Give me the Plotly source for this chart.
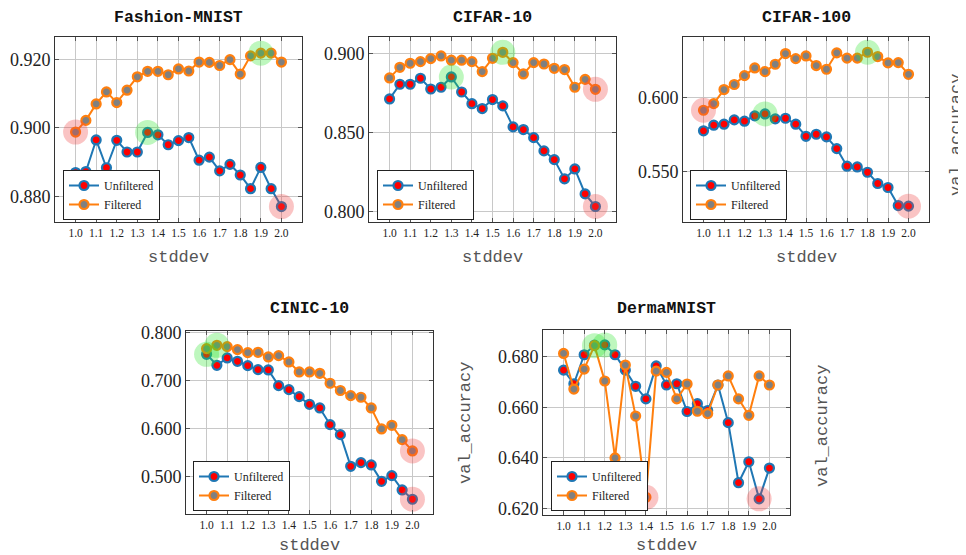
import plotly.graph_objects as go
import numpy as np

W, H = 966, 555
OFF = 8  # page body margin offset compensation

stddev = [1.0, 1.05, 1.1, 1.15, 1.2, 1.25, 1.3, 1.35, 1.4, 1.45, 1.5,
          1.55, 1.6, 1.65, 1.7, 1.75, 1.8, 1.85, 1.9, 1.95, 2.0]
x_tick_vals = [1.0, 1.1, 1.2, 1.3, 1.4, 1.5, 1.6, 1.7, 1.8, 1.9, 2.0]
x_tick_text = ["1.0", "1.1", "1.2", "1.3", "1.4", "1.5", "1.6", "1.7", "1.8", "1.9", "2.0"]

titles = ["Fashion-MNIST", "CIFAR-10", "CIFAR-100", "CINIC-10", "DermaMNIST"]

fashion_unfiltered = [0.8870, 0.8873, 0.8965, 0.8884, 0.8964, 0.8930, 0.8930, 0.8987, 0.8980, 0.8951, 0.8963,
                      0.8972, 0.8906, 0.8915, 0.8875, 0.8894, 0.8863, 0.8823, 0.8885, 0.8823, 0.8771]
fashion_filtered = [0.8988, 0.9022, 0.9070, 0.9105, 0.9074, 0.9110, 0.9149, 0.9165, 0.9165, 0.9155, 0.9172,
                    0.9166, 0.9192, 0.9191, 0.9182, 0.9199, 0.9157, 0.9210, 0.9218, 0.9218, 0.9192]

cifar10_unfiltered = [0.8711, 0.8804, 0.8804, 0.8842, 0.8774, 0.8785, 0.8850, 0.8755, 0.8681, 0.8650, 0.8707,
                      0.8667, 0.8534, 0.8517, 0.8466, 0.8382, 0.8327, 0.8205, 0.8268, 0.8110, 0.8030]
cifar10_filtered = [0.8844, 0.8911, 0.8937, 0.8947, 0.8966, 0.8983, 0.8956, 0.8956, 0.8947, 0.8884, 0.8968,
                    0.9006, 0.8941, 0.8869, 0.8941, 0.8932, 0.8905, 0.8897, 0.8785, 0.8835, 0.8772]

cifar100_unfiltered = [0.5773, 0.5811, 0.5818, 0.5847, 0.5838, 0.5874, 0.5887, 0.5854, 0.5858, 0.5818, 0.5736,
                       0.5750, 0.5732, 0.5653, 0.5534, 0.5529, 0.5493, 0.5417, 0.5390, 0.5268, 0.5264]
cifar100_filtered = [0.5912, 0.5957, 0.6052, 0.6086, 0.6146, 0.6198, 0.6173, 0.6223, 0.6295, 0.6261, 0.6279,
                     0.6214, 0.6189, 0.6300, 0.6264, 0.6264, 0.6304, 0.6275, 0.6232, 0.6234, 0.6155]

cinic_unfiltered = [0.7544, 0.7316, 0.7468, 0.7399, 0.7309, 0.7226, 0.7219, 0.6894, 0.6811, 0.6666, 0.6507,
                    0.6431, 0.6085, 0.5878, 0.5221, 0.5297, 0.5249, 0.4910, 0.5028, 0.4731, 0.4538]
cinic_filtered = [0.7661, 0.7730, 0.7703, 0.7641, 0.7578, 0.7585, 0.7489, 0.7516, 0.7385, 0.7178, 0.7178,
                  0.7150, 0.6943, 0.6793, 0.6687, 0.6653, 0.6431, 0.5996, 0.6071, 0.5774, 0.5540]

derma_unfiltered = [0.6747, 0.6693, 0.6808, 0.6846, 0.6847, 0.6808, 0.6747, 0.6683, 0.6633, 0.6764, 0.6688,
                    0.6693, 0.6583, 0.6614, 0.6587, 0.6688, 0.6539, 0.6301, 0.6384, 0.6237, 0.6359]
derma_filtered = [0.6813, 0.6672, 0.6751, 0.6844, 0.6704, 0.6399, 0.6767, 0.6565, 0.6243, 0.6743, 0.6738,
                  0.6633, 0.6692, 0.6584, 0.6575, 0.6688, 0.6724, 0.6633, 0.6568, 0.6724, 0.6688]

y_tick_vals = [
    [0.88, 0.90, 0.92],
    [0.80, 0.85, 0.90],
    [0.55, 0.60],
    [0.5, 0.6, 0.7, 0.8],
    [0.62, 0.64, 0.66, 0.68],
]

unfiltered_all = [fashion_unfiltered, cifar10_unfiltered, cifar100_unfiltered, cinic_unfiltered, derma_unfiltered]
filtered_all = [fashion_filtered, cifar10_filtered, cifar100_filtered, cinic_filtered, derma_filtered]

# layout geometry (pixels in the final picture)
boxes = [  # left, right, top, bottom
    (55, 302, 37, 222),
    (369, 616, 37, 222),
    (683, 929, 37, 222),
    (186, 433, 331, 514),
    (543, 790, 330, 515),
]
y_ranges = [
    (0.8726, 0.9265),
    (0.7932, 0.9103),
    (0.5157, 0.6407),
    (0.4232, 0.8027),
    (0.6173, 0.6906),
]
legend_pos = [(63, 220), (377, 220), (690, 220), (193, 511), (551, 511)]

def px(xp):
    return (xp - OFF) / W

def py(yp):
    return 1 - (yp - OFF) / H

BLUE = "#1f77b4"
ORANGE = "#ff7f0e"
SERIF = "Liberation Serif, Times New Roman, serif"
MONO = "Liberation Mono, Courier New, monospace"

fig = go.Figure()
layout = dict(
    width=W, height=H,
    margin=dict(l=0, r=0, t=0, b=0, autoexpand=False),
    paper_bgcolor="white", plot_bgcolor="white",
    annotations=[],
)

for i in range(5):
    n = "" if i == 0 else str(i + 1)
    xa, ya = "x" + n, "y" + n
    leg = "legend" + n
    unf = unfiltered_all[i]
    fil = filtered_all[i]

    fig.add_trace(go.Scatter(
        x=stddev, y=unf, mode="lines+markers", name="Unfiltered",
        line=dict(color=BLUE, width=2),
        marker=dict(color="red", size=9, line=dict(color=BLUE, width=2.2)),
        xaxis=xa, yaxis=ya, legend=leg,
    ))
    fig.add_trace(go.Scatter(
        x=stddev, y=fil, mode="lines+markers", name="Filtered",
        line=dict(color=ORANGE, width=2),
        marker=dict(color="#808080", size=9, line=dict(color=ORANGE, width=2.2)),
        xaxis=xa, yaxis=ya, legend=leg,
    ))
    # highlight min (red) and max (green) of each series
    hx, hy, hc = [], [], []
    for s in (unf, fil):
        arr = np.array(s)
        imin, imax = int(arr.argmin()), int(arr.argmax())
        hx += [stddev[imin], stddev[imax]]
        hy += [s[imin], s[imax]]
        hc += ["rgba(240,60,60,0.3)", "rgba(40,230,40,0.3)"]
    fig.add_trace(go.Scatter(
        x=hx, y=hy, mode="markers", showlegend=False, hoverinfo="skip",
        marker=dict(color=hc, size=25, line=dict(width=0)),
        xaxis=xa, yaxis=ya,
    ))

    l, r, t, b = boxes[i]
    layout["xaxis" + n] = dict(
        domain=[px(l), px(r)], anchor=ya, range=[0.9, 2.1],
        tickvals=x_tick_vals, ticktext=x_tick_text,
        tickfont=dict(family=SERIF, size=11.5, color="#222"),
        showgrid=True, gridcolor="#c8c8c8", gridwidth=1,
        showline=True, linecolor="#333", linewidth=1, mirror="allticks",
        ticks="inside", ticklen=4, tickcolor="#555", zeroline=False,
    )
    layout["yaxis" + n] = dict(
        domain=[py(b), py(t)], anchor=xa, range=list(y_ranges[i]),
        tickvals=y_tick_vals[i], tickformat=".3f",
        tickfont=dict(family=SERIF, size=18, color="#222"),
        showgrid=True, gridcolor="#c8c8c8", gridwidth=1,
        showline=True, linecolor="#333", linewidth=1, mirror="allticks",
        ticks="inside", ticklen=4, tickcolor="#555", zeroline=False,
    )
    lx, lb = legend_pos[i]
    layout[leg] = dict(
        x=px(lx), y=py(lb), xanchor="left", yanchor="bottom",
        xref="paper", yref="paper",
        bgcolor="white", bordercolor="#222", borderwidth=1,
        font=dict(family=SERIF, size=12, color="#222"),
        itemwidth=30, tracegroupgap=0,
    )
    # title
    ty = 17 if i < 3 else 308
    layout["annotations"].append(dict(
        text="<b>" + titles[i] + "</b>", x=px((l + r) / 2), y=py(ty),
        xref="paper", yref="paper", showarrow=False, xanchor="center", yanchor="middle",
        font=dict(family=MONO, size=16.5, color="#111"),
    ))
    sy = 257 if i < 3 else 545
    layout["annotations"].append(dict(
        text="stddev", x=px((l + r) / 2), y=py(sy),
        xref="paper", yref="paper", showarrow=False, xanchor="center", yanchor="middle",
        font=dict(family=MONO, size=17, color="#555"),
    ))

for (vx, vy) in [(956, 135), (465, 423), (822, 426)]:
    layout["annotations"].append(dict(
        text="val_accuracy", x=px(vx), y=py(vy), textangle=-90,
        xref="paper", yref="paper", showarrow=False, xanchor="center", yanchor="middle",
        font=dict(family=MONO, size=17, color="#555"),
    ))

fig.update_layout(**layout)
fig.write_html("out.html")
